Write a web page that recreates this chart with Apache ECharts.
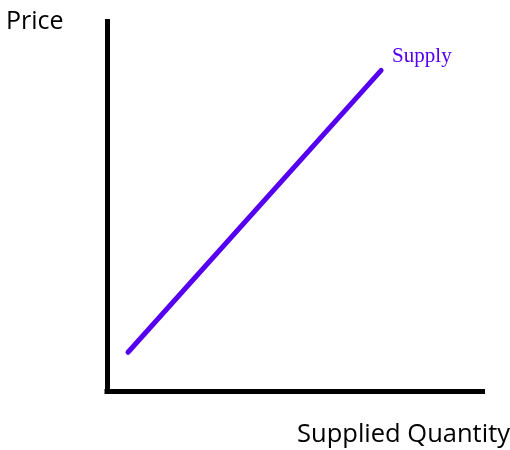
<!DOCTYPE html>
<html lang="en">
<head>
  <meta charset="UTF-8">
  <title>Supply</title>
</head>
<body style="margin:0">
  <div id="main" style="width:510px;height:450px"></div>
  <script src="https://cdn.jsdelivr.net/npm/echarts@6/dist/echarts.min.js"></script>
  <script>
    // supply curve, start and end in axis units (0..100)
    const supplyQty = [5.6, 73.0];
    const supplyPrice = [10.6, 86.8];
    const seriesName = 'Supply';
    const xName = 'Supplied Quantity';
    const yName = 'Price';

    let myChart = echarts.init(document.getElementById('main'));
    let axisLine = { show: true, lineStyle: { color: '#000', width: 5, cap: 'square' } };
    let option = {
      animation: false,
      grid: { left: 107, top: 21.5, right: 27.5, bottom: 58.5 },
      xAxis: {
        type: 'value', min: 0, max: 100,
        axisLine: axisLine, axisTick: { show: false }, axisLabel: { show: false }, splitLine: { show: false }
      },
      yAxis: {
        type: 'value', min: 0, max: 100,
        axisLine: axisLine, axisTick: { show: false }, axisLabel: { show: false }, splitLine: { show: false }
      },
      graphic: [
        { type: 'text', left: 6, top: 9, style: { text: yName, font: '25px "Open Sans"', fill: '#000' } },
        { type: 'text', right: 0, top: 422, style: { text: xName, font: '25.5px "Open Sans"', fill: '#000' } }
      ],
      series: [
        {
          name: seriesName,
          type: 'line',
          symbol: 'none',
          data: supplyQty.map((q, i) => [q, supplyPrice[i]]),
          lineStyle: { color: '#5500f0', width: 5, cap: 'round' },
          endLabel: {
            show: true,
            formatter: seriesName,
            offset: [3, -14],
            color: '#5500f0',
            fontFamily: '"Liberation Serif"',
            fontSize: 21
          }
        }
      ]
    };
    myChart.setOption(option);
  </script>
</body>
</html>
